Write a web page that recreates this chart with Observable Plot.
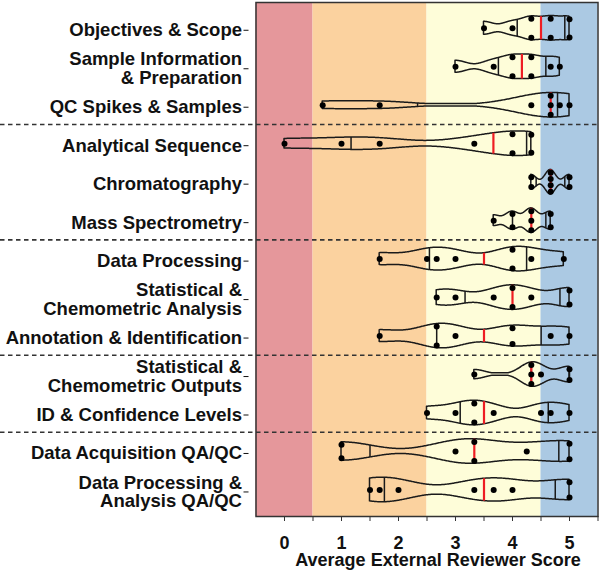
<!DOCTYPE html>
<html><head><meta charset="utf-8">
<script src="https://cdn.jsdelivr.net/npm/d3@7"></script>
<script src="https://cdn.jsdelivr.net/npm/@observablehq/plot@0.6"></script>
<style>body{margin:0;background:#fff;}</style>
</head><body><div id="chart"></div>
<script>
// ---- data ----
const categories = [
  "Objectives & Scope",
  "Sample Information\n& Preparation",
  "QC Spikes & Samples",
  "Analytical Sequence",
  "Chromatography",
  "Mass Spectrometry",
  "Data Processing",
  "Statistical &\nChemometric Analysis",
  "Annotation & Identification",
  "Statistical &\nChemometric Outputs",
  "ID & Confidence Levels",
  "Data Acquisition QA/QC",
  "Data Processing &\nAnalysis QA/QC"
];
const scores = [
  [3.5, 4, 4.33, 4.33, 4.67, 4.67, 5, 5],
  [3, 3.67, 4, 4, 4.33, 4.33, 4.67, 4.83],
  [0.67, 1.67, 4.33, 4.67, 4.67, 4.67, 4.83, 5],
  [0, 1, 1.67, 3.33, 4, 4, 4.33, 4.33],
  [4.33, 4.33, 4.67, 4.67, 4.67, 4.67, 5, 5],
  [3.67, 4, 4, 4.33, 4.33, 4.33, 4.67, 4.67],
  [1.67, 2.5, 2.67, 3, 4, 4, 4.33, 4.9],
  [2.67, 3, 3.67, 4, 4, 4.33, 5, 5],
  [1.67, 2.67, 2.67, 3, 4, 4, 4.67, 5],
  [3.33, 4.33, 4.33, 4.33, 4.5, 5, 5],
  [2.5, 3, 3.33, 3.33, 3.67, 4.5, 4.67, 5],
  [1, 1, 3, 3.33, 3.33, 4.25, 5, 5],
  [1.5, 1.67, 2, 3.33, 3.67, 4, 5, 5]
];
const groupEnds = [2, 5, 8, 10];          // dashed separator after these rows
const bandEdges = [-0.5, 0.5, 2.5, 4.5, 5.5];
const bandColors = ["#e5979b", "#fbd29f", "#fefdd9", "#abc9e3"];
const xTicks = [0, 0.5, 1, 1.5, 2, 2.5, 3, 3.5, 4, 4.5, 5, 5.5];
const axisTitle = "Average External Reviewer Score";

// ---- layout ----
const W = 600, H = 570;
const mL = 255.5, mR = 2.5, mT = 2, mB = 54;
const xDom = [-0.5, 5.5];
const yDom = [-0.67, 12.69];
const pxX = (W - mL - mR) / (xDom[1] - xDom[0]);
const pxY = (H - mT - mB) / (yDom[1] - yDom[0]);
const maxHW = 12.3 / pxY;

// ---- derived shapes ----
function quant(sorted, p) {
  const n = sorted.length;
  let h = (n + 1) * p - 1;
  h = Math.max(0, Math.min(n - 1, h));
  const lo = Math.floor(h);
  const hi = Math.min(lo + 1, n - 1);
  return sorted[lo] + (h - lo) * (sorted[hi] - sorted[lo]);
}
const violins = [], quarts = [], medians = [], dots = [], bands = [];
bandColors.forEach((c, i) => bands.push({x1: bandEdges[i], x2: bandEdges[i + 1], c}));

scores.forEach((vals, i) => {
  const s = vals.slice().sort(d3.ascending);
  const bw = Math.max(0.3 * d3.deviation(s), 0.05);
  const [lo, hi] = d3.extent(s);
  const N = 240;
  const xs = d3.range(N + 1).map(k => lo + (hi - lo) * k / N);
  const dens = xs.map(x => d3.sum(s, v => Math.exp(-0.5 * ((x - v) / bw) ** 2)));
  const m = d3.max(dens);
  const ws = dens.map(d => Math.max(Math.pow(d / m, 0.75) * maxHW, 1.2 / pxY));
  const hw = x => {
    const t = (x - lo) / (hi - lo) * N;
    const k = Math.max(0, Math.min(N - 1, Math.floor(t)));
    const f = Math.max(0, Math.min(1, t - k));
    return ws[k] + f * (ws[k + 1] - ws[k]);
  };
  xs.forEach((x, k) => violins.push({cat: i, x, y1: i - ws[k], y2: i + ws[k]}));
  [0.25, 0.75].forEach(p => {
    const q = quant(s, p);
    quarts.push({x: q, y1: i - hw(q), y2: i + hw(q)});
  });
  const md = quant(s, 0.5);
  medians.push({x: md, y1: i - hw(md), y2: i + hw(md)});
  const groups = d3.groups(s, v => v.toFixed(2));
  groups.forEach(([key, arr]) => {
    const v = arr[0];
    const k = arr.length;
    const spread = Math.max(0, Math.min(9.5, hw(v) * pxY - 2.5)) / pxY;
    arr.forEach((_, j) => {
      const off = k === 1 ? 0 : -spread + 2 * spread * j / (k - 1);
      dots.push({x: v, y: i + off});
    });
  });
});

const seps = groupEnds.map(g => g + 0.5);
const xLeft = xDom[0] - mL / pxX;

const chart = Plot.plot({
  width: W, height: H,
  marginLeft: mL, marginRight: mR, marginTop: mT, marginBottom: mB,
  style: {fontFamily: "'Liberation Sans', Arial, sans-serif", fontWeight: "bold", fontSize: "18px", color: "#111", background: "#fff"},
  x: {domain: xDom},
  y: {domain: yDom, reverse: true},
  color: {type: "identity"},
  marks: [
    Plot.rect(bands, {x1: "x1", x2: "x2", fill: "c"}),
    Plot.ruleY(seps, {y: d => d, x1: xLeft, x2: xDom[1], stroke: "#333", strokeWidth: 1.6, strokeDasharray: "4.5,3.5"}),
    Plot.areaY(violins, {x: "x", y1: "y1", y2: "y2", z: "cat", fill: "none", stroke: "#1a1a1a", strokeWidth: 1.5}),
    Plot.ruleX(quarts, {x: "x", y1: "y1", y2: "y2", stroke: "#1a1a1a", strokeWidth: 1.5}),
    Plot.ruleX(medians, {x: "x", y1: "y1", y2: "y2", stroke: "#ee1d23", strokeWidth: 2.2}),
    Plot.dot(dots, {x: "x", y: "y", r: 3, fill: "#000"}),
    Plot.frame({stroke: "#333", strokeWidth: 1.5}),
    Plot.axisX({ticks: xTicks, tickSize: 5, tickPadding: 15, tickFormat: d => Number.isInteger(d) ? String(d) : "", label: null, stroke: "#333", fontSize: 18}),
    Plot.axisY({ticks: d3.range(categories.length), tickSize: 5, tickPadding: 2, dx: -7, dy: 2, tickFormat: i => categories[i], label: null, fontSize: 18.5}),
    Plot.text([axisTitle], {frameAnchor: "bottom", lineAnchor: "middle", text: d => d, dy: 44, dx: 11, fontSize: 18, fontWeight: "bold"})
  ]
});
document.getElementById("chart").appendChild(chart);
</script>
</body></html>
